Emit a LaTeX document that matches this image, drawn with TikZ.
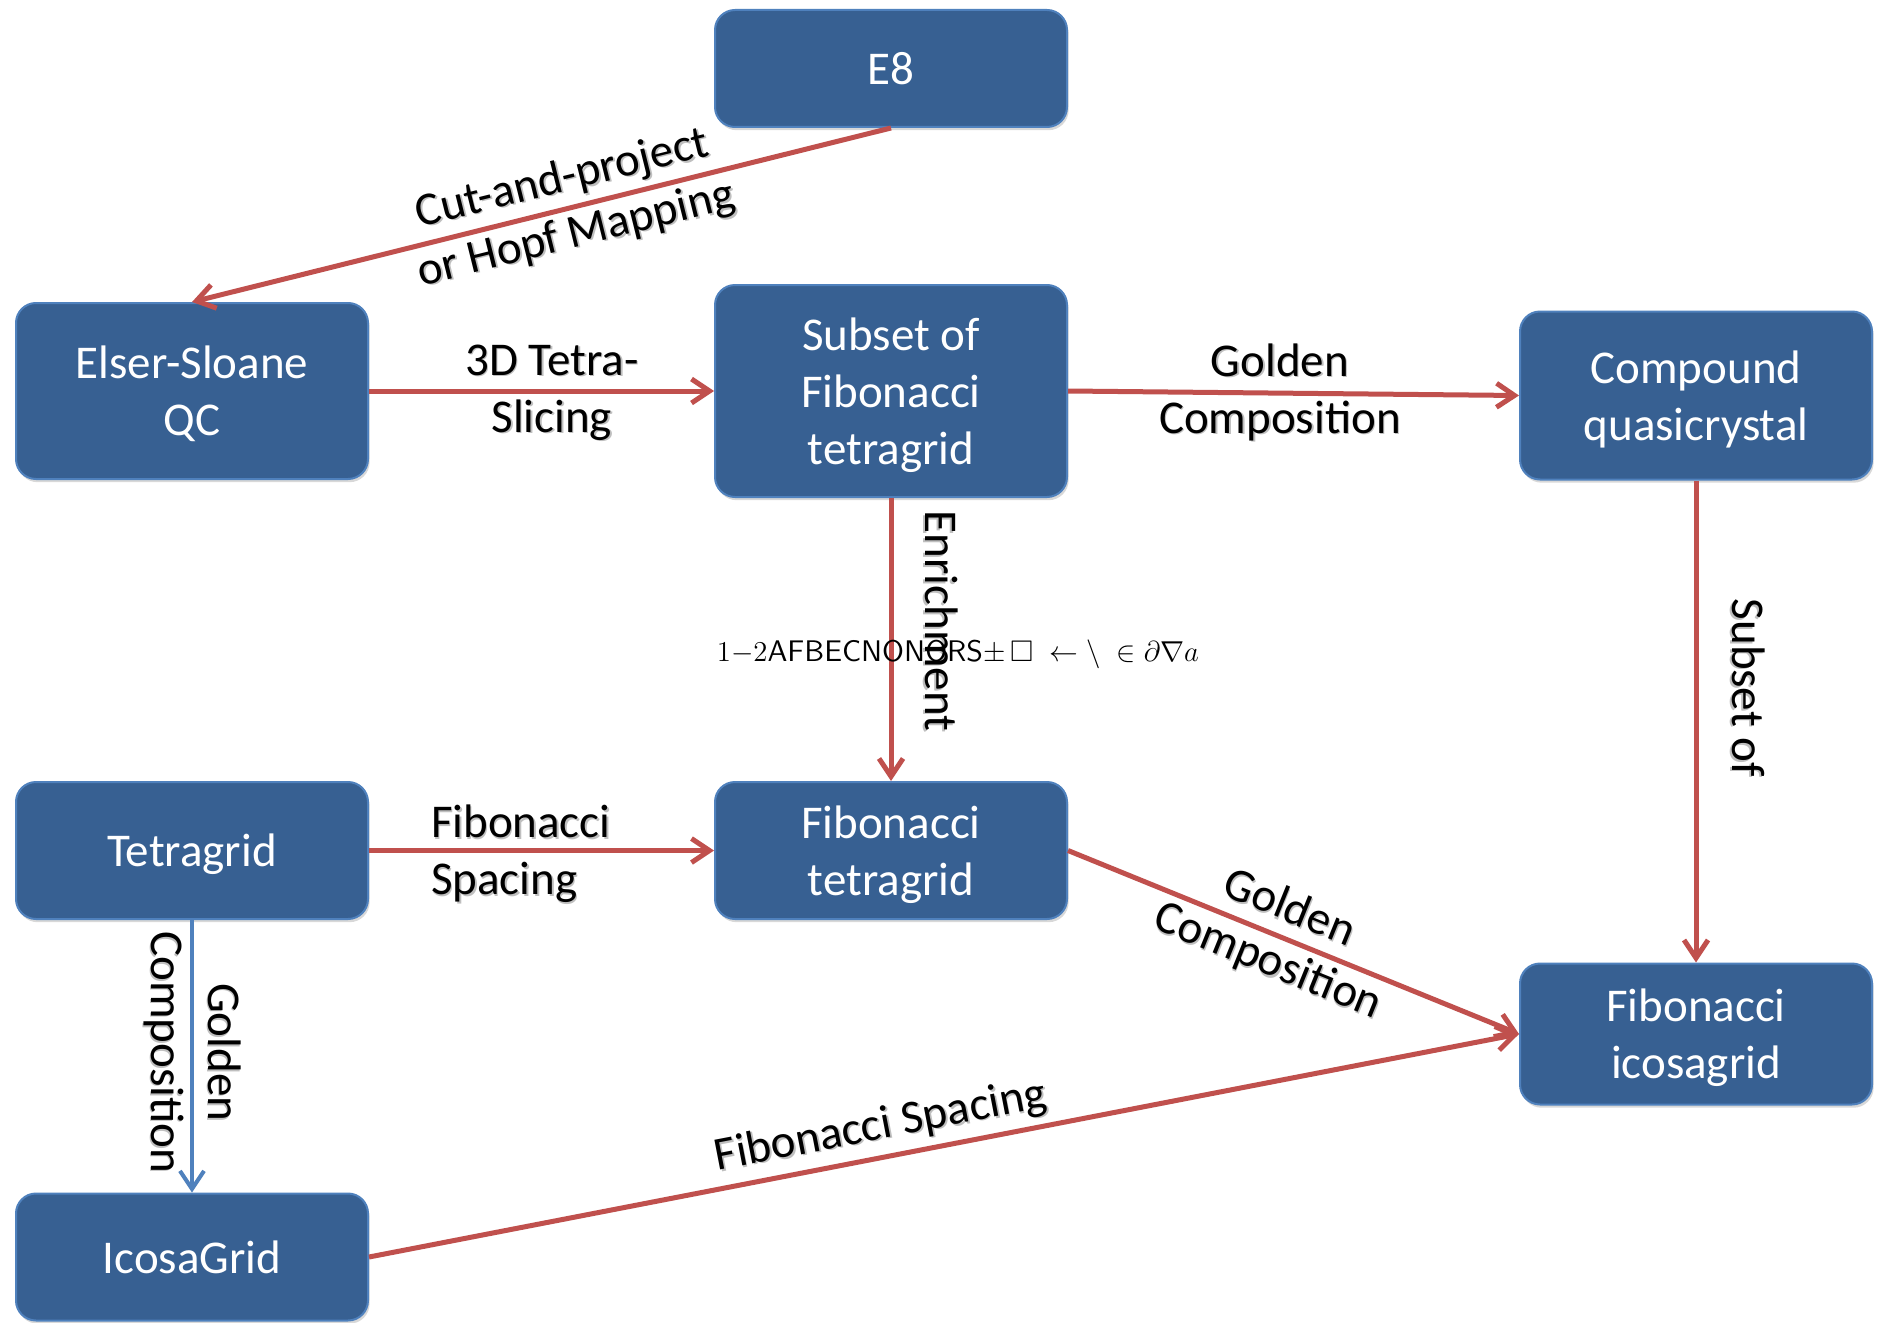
\documentclass[tikz,border=0pt]{standalone}
\usepackage[no-math]{fontspec}
\usepackage{amssymb}
\setmainfont{Carlito}
\newfontfamily\lmsans{lmsans10-regular.otf}
\usetikzlibrary{arrows.meta,shadows}
\definecolor{boxfill}{RGB}{55,96,146}
\definecolor{boxline}{RGB}{79,129,189}
\definecolor{arrred}{RGB}{192,80,77}
\definecolor{arrblue}{RGB}{79,129,189}
\newcommand\shd[1]{\leavevmode\rlap{\kern0.8pt\raisebox{-0.8pt}{\textcolor{black!25}{#1}}}#1}
\newcommand\tpstrut{\rule{0pt}{22pt}}
\newcommand\btstrut{\rule[-6pt]{0pt}{0pt}}
\begin{document}
\begin{tikzpicture}[x=0.5pt,y=-0.5pt,
  box/.style={draw=boxline, line width=1pt, fill=boxfill, rounded corners=10pt,
    text=white, align=center, font=\fontsize{23.5}{28.5}\selectfont,
    minimum width=176pt, inner sep=2pt,
    drop shadow={shadow xshift=0.8pt, shadow yshift=-1.6pt, opacity=0.3}},
  conn/.style={draw=arrred, line width=2.5pt, -{Straight Barb[length=9pt,width=12pt]}},
  bconn/.style={draw=arrblue, line width=2pt, -{Straight Barb[length=9pt,width=12pt]}},
  lbl/.style={font=\fontsize{23.5}{28.5}\selectfont, text=black, align=center, inner sep=0pt},
]
\fill[white] (0,0) rectangle (1878,1322);
\useasboundingbox (0,0) rectangle (1878,1322);

\node[box, minimum height=58.5pt] (e8) at (891,68.5) {\tpstrut E8\btstrut};
\node[box, minimum height=88pt] (es) at (192,391) {\tpstrut Elser-Sloane\\QC\btstrut};
\node[box, minimum height=106pt] (sub) at (891,391) {\tpstrut Subset of\\Fibonacci\\tetragrid\btstrut};
\node[box, minimum height=84pt] (cq) at (1696,395.5) {\tpstrut Compound\\quasicrystal\btstrut};
\node[box, minimum height=68.5pt] (tg) at (192,850.5) {\tpstrut Tetragrid\btstrut};
\node[box, minimum height=68.5pt] (ft) at (891,850.5) {\tpstrut Fibonacci\\tetragrid\btstrut};
\node[box, minimum height=70.5pt] (fi) at (1696,1034) {\tpstrut Fibonacci\\icosagrid\btstrut};
\node[box, minimum height=63.5pt] (ig) at (192,1257) {\tpstrut IcosaGrid\btstrut};

\draw[conn] (e8.south) -- node[lbl, sloped, pos=0.46] (l1) {\shd{Cut-and-project}\\\shd{or Hopf Mapping}} (es.north);
\draw[conn] (es.east) -- node[lbl, pos=0.53, yshift=-1.2pt] (l2) {\shd{3D Tetra-}\\\shd{Slicing}} (sub.west);
\draw[conn] (sub.east) -- node[lbl, pos=0.47] (l3) {\shd{Golden}\\\shd{Composition}} (cq.west);
\draw[conn] (sub.south) -- node[lbl, pos=0.435, rotate=-90, anchor=south, inner sep=15pt] (l4) {\shd{Enrichment}} (ft.north);
\draw[conn] (cq.south) -- node[lbl, pos=0.43, rotate=-90, anchor=south, inner sep=16pt] (l5) {\shd{Subset of}} (fi.north);
\draw[conn] (tg.east) -- node[lbl, pos=0.44, align=left, yshift=-2pt] (l6) {\shd{Fibonacci}\\\shd{Spacing}} (ft.west);
\draw[conn] (ft.east) -- node[lbl, sloped, pos=0.466] (l7) {\shd{Golden}\\\shd{Composition}} (fi.west);
\draw[conn] (ig.east) -- node[lbl, sloped, pos=0.45, anchor=south, inner sep=3pt] (l8) {\shd{Fibonacci Spacing}} (fi.west);
\draw[bconn] (tg.south) -- node[lbl, pos=0.5, rotate=-90, xshift=-2pt] (l9) {\shd{Golden}\\\shd{Composition}} (ig.north);

\node[font=\fontsize{14.9}{17}\selectfont, inner sep=0pt] (junk) at (958,654)
  {$1{-}2$\lmsans AFBECNONORS$\pm\,\square\;\leftarrow\setminus\;\in\partial\nabla a$};
\end{tikzpicture}
\end{document}
